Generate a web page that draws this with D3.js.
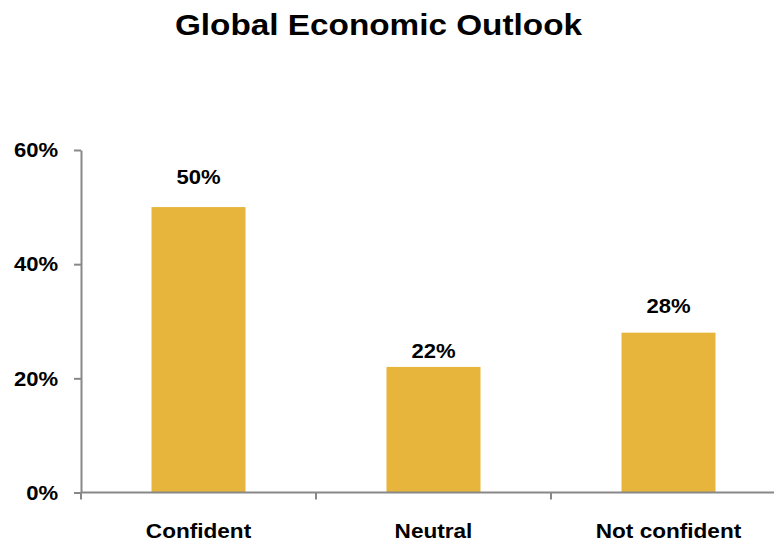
<!DOCTYPE html>
<html>
<head>
<meta charset="utf-8">
<script src="https://cdn.jsdelivr.net/npm/d3@7"></script>
<style>
  html, body { margin: 0; padding: 0; background: #fff; }
  svg { display: block; font-family: "Liberation Sans", Arial, sans-serif; }
</style>
</head>
<body>
<svg id="chart" width="774" height="540"></svg>
<script>
// Survey responses: share of respondents per outlook category
const categories = ["Confident", "Neutral", "Not confident"];
const values = [50, 22, 28];
const yTicks = [0, 20, 40, 60];
const title = "Global Economic Outlook";

// Distance from each bar top to its value label baseline
const labelGap = [23.5, 9, 20];

const svg = d3.select("#chart");
const plotLeft = 81, plotRight = 786, plotTop = 150, plotBottom = 492.5;

// Slightly widen bold text glyphs for a broader face
function widen(sel, k) {
  sel.each(function () {
    const w = this.getComputedTextLength();
    d3.select(this).attr("textLength", w * k).attr("lengthAdjust", "spacingAndGlyphs");
  });
}

const x = d3.scaleBand()
  .domain(categories)
  .range([plotLeft, plotRight])
  .paddingInner(0.6)
  .paddingOuter(0.3);

const y = d3.scaleLinear().domain([0, 60]).range([plotBottom, plotTop]);

// Title
svg.append("text")
  .attr("x", 378.5)
  .attr("y", 35)
  .attr("text-anchor", "middle")
  .attr("font-size", 30)
  .attr("font-weight", "bold")
  .attr("fill", "#000")
  .text(title)
  .call(widen, 1.11);

// Bars
svg.append("g").selectAll("rect")
  .data(values)
  .join("rect")
  .attr("x", (d, i) => x(categories[i]))
  .attr("y", d => y(d))
  .attr("width", x.bandwidth())
  .attr("height", d => y(0) - y(d))
  .attr("fill", "#E7B53B");

// Value labels
svg.append("g").selectAll("text")
  .data(values)
  .join("text")
  .attr("x", (d, i) => x(categories[i]) + x.bandwidth() / 2)
  .attr("y", (d, i) => y(d) - labelGap[i])
  .attr("text-anchor", "middle")
  .attr("font-size", 21)
  .attr("font-weight", "bold")
  .attr("fill", "#000")
  .text(d => d + "%")
  .call(widen, 1.05);

// Y axis
const yAxis = svg.append("g")
  .attr("transform", `translate(${plotLeft},0)`)
  .call(d3.axisLeft(y).tickValues(yTicks).tickFormat(d => d + "%").tickSize(7).tickSizeOuter(0).tickPadding(16));
yAxis.select(".domain").attr("stroke", "#888").attr("stroke-width", 2);
yAxis.selectAll(".tick line").attr("stroke", "#888").attr("stroke-width", 2);
yAxis.selectAll(".tick text")
  .attr("font-size", 21)
  .attr("font-weight", "bold")
  .attr("fill", "#000")
  .attr("font-family", "Liberation Sans, Arial, sans-serif")
  .call(widen, 1.05);

// X axis: ticks sit between the category bands
const xAxis = svg.append("g")
  .attr("transform", `translate(0,${plotBottom})`);
xAxis.append("line")
  .attr("x1", plotLeft).attr("x2", plotRight)
  .attr("stroke", "#888").attr("stroke-width", 2);
xAxis.selectAll("line.tick")
  .data(categories.map((c, i) => plotLeft + i * x.step()))
  .join("line")
  .attr("class", "tick")
  .attr("x1", d => d).attr("x2", d => d)
  .attr("y1", 0).attr("y2", 7)
  .attr("stroke", "#888").attr("stroke-width", 2);
xAxis.selectAll("text")
  .data(categories)
  .join("text")
  .attr("x", d => x(d) + x.bandwidth() / 2)
  .attr("y", 45)
  .attr("text-anchor", "middle")
  .attr("font-size", 21)
  .attr("font-weight", "bold")
  .attr("fill", "#000")
  .text(d => d)
  .call(widen, 1.075);
</script>
</body>
</html>
